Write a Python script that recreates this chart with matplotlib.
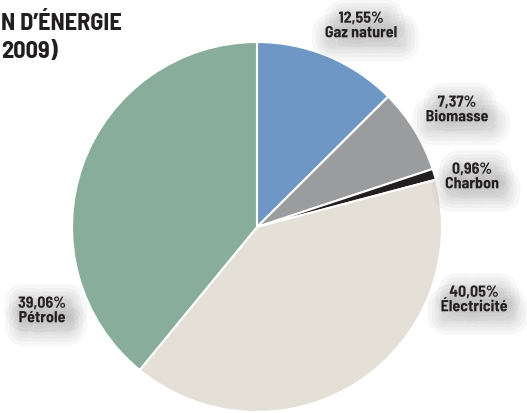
import matplotlib.pyplot as plt
import matplotlib.patheffects as pe

labels = ['Gaz naturel', 'Biomasse', 'Charbon', 'Électricité', 'Pétrole']
values = [12.55, 7.37, 0.96, 40.05, 39.06]
colors = ['#6f97c5', '#9b9c9e', '#231f20', '#e4e0d7', '#89ad9b']
# label anchor points in pixels (image coords, y from top)
label_pos = [(361, 27), (457, 111), (472, 178), (474, 301), (42, 312)]

W, H = 527, 414
fig = plt.figure(figsize=(W / 100, H / 100), dpi=100)
ax = fig.add_axes([0, 0, 1, 1])

ax.pie(values, colors=colors, startangle=90, counterclock=False,
       center=(257, H - 228), radius=185, frame=True,
       wedgeprops=dict(edgecolor='white', linewidth=1.5))
ax.set_xlim(0, W)
ax.set_ylim(0, H)
ax.set_aspect('equal')
ax.axis('off')


class SoftShadow(pe.AbstractPathEffect):
    # wide translucent stroke behind the glyphs, stacked to look blurred
    def __init__(self, offset, lw, rgba):
        super().__init__(offset)
        self.lw = lw
        self.rgba = rgba

    def draw_path(self, renderer, gc, tpath, affine, rgbFace):
        gc0 = renderer.new_gc()
        gc0.copy_properties(gc)
        gc0.set_linewidth(self.lw)
        gc0.set_foreground(self.rgba)
        gc0.set_alpha(self.rgba[3])
        gc0.set_joinstyle('round')
        gc0.set_capstyle('round')
        renderer.draw_path(gc0, tpath, affine + self._offset_transform(renderer), None)
        gc0.restore()


shadow = [SoftShadow((3, -4), w, (0.4, 0.4, 0.4, 0.05)) for w in (26, 20, 15, 10, 6)] + [pe.Normal()]

font = dict(family=['Barlow Semi Condensed', 'Roboto Condensed', 'DejaVu Sans'],
            weight='bold', color='#231f20')

for lab, val, (x, y) in zip(labels, values, label_pos):
    txt = f'{val:.2f}%'.replace('.', ',') + '\n' + lab
    ax.text(x, H - y, txt, ha='center', va='center', fontsize=11.5,
            linespacing=1.05, path_effects=shadow, **font)

fig.text(1 / W, 1 - 24 / H, 'N D’ÉNERGIE', ha='left', va='center',
         fontsize=17.5, **font)
fig.text(1 / W, 1 - 52 / H, '2009)', ha='left', va='center',
         fontsize=17.5, **font)

fig.savefig('out.png', dpi=100, facecolor='white')
